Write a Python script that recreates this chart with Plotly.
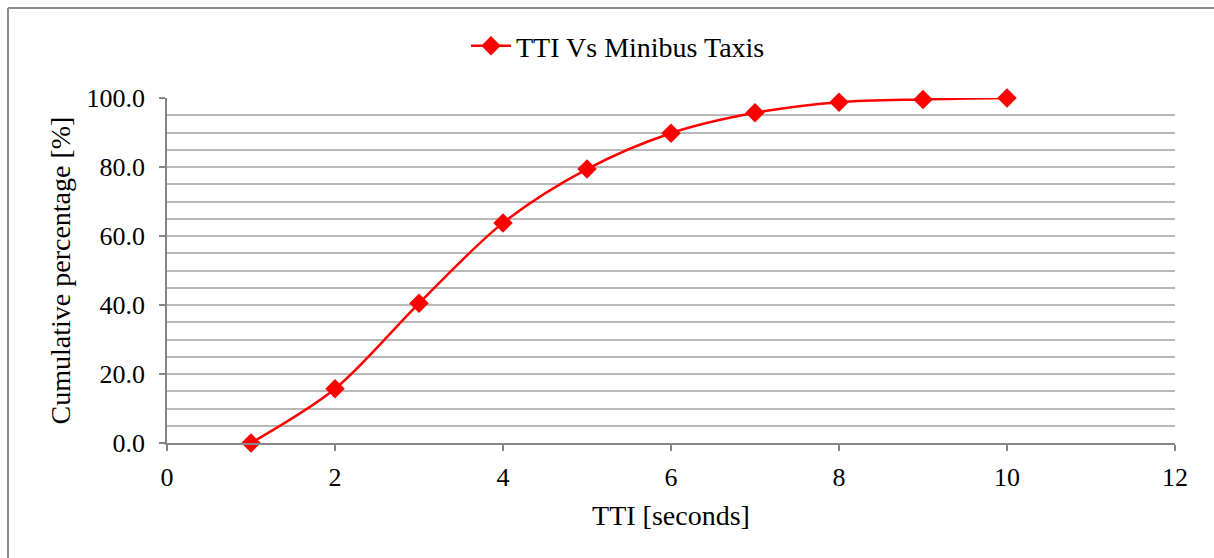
import plotly.graph_objects as go

# Cumulative distribution of TTI for minibus taxis
tti_seconds = [1, 2, 3, 4, 5, 6, 7, 8, 9, 10]
cumulative_pct = [0.0, 15.7, 40.5, 63.8, 79.4, 89.8, 95.7, 98.8, 99.6, 100.0]

x_ticks = [0, 2, 4, 6, 8, 10, 12]
y_ticks = [0, 20, 40, 60, 80, 100]

W, H = 1214, 558
M_L, M_R, M_T, M_B = 167, 39, 98, 115
plot_w = W - M_L - M_R
plot_h = H - M_T - M_B


def px_to_paper_x(px):
    return (px - M_L) / plot_w


def px_to_paper_y(py):
    return (H - M_B - py) / plot_h


font_family = "Liberation Serif"
axis_grey = "#868686"
grid_grey = "#b8b8b8"
frame_grey = "#8c8c8c"

fig = go.Figure()
fig.add_trace(go.Scatter(
    x=tti_seconds,
    y=cumulative_pct,
    mode="lines+markers",
    name="TTI Vs Minibus Taxis",
    line=dict(color="#ff0000", width=2.5, shape="spline", smoothing=0.9),
    marker=dict(symbol="diamond", size=15, color="#ff0000"),
    cliponaxis=False,
))

fig.update_layout(
    width=W,
    height=H,
    margin=dict(l=M_L, r=M_R, t=M_T, b=M_B, pad=0),
    paper_bgcolor="white",
    plot_bgcolor="white",
    font=dict(family=font_family, size=26, color="black"),
    showlegend=True,
    legend=dict(
        orientation="h",
        x=px_to_paper_x(466),
        xanchor="left",
        y=px_to_paper_y(46),
        yanchor="middle",
        font=dict(family=font_family, size=28),
        itemwidth=40,
        bgcolor="rgba(0,0,0,0)",
    ),
    xaxis=dict(
        range=[0, 12],
        tickvals=x_ticks,
        ticktext=[str(v) for v in x_ticks],
        ticks="outside",
        ticklen=6,
        tickcolor=axis_grey,
        tickwidth=1.5,
        ticklabelstandoff=4,
        showline=True,
        linecolor=axis_grey,
        linewidth=1.5,
        showgrid=False,
        zeroline=False,
        title=dict(text="TTI [seconds]", font=dict(family=font_family, size=28), standoff=14),
        tickfont=dict(family=font_family, size=26),
    ),
    yaxis=dict(
        range=[0, 100],
        tickvals=y_ticks,
        ticktext=[f"{v:.1f}" for v in y_ticks],
        ticks="outside",
        ticklen=6,
        tickcolor=axis_grey,
        tickwidth=1.5,
        ticklabelstandoff=9,
        showline=True,
        linecolor=axis_grey,
        linewidth=1.5,
        showgrid=True,
        gridcolor=grid_grey,
        gridwidth=1.5,
        minor=dict(dtick=5, showgrid=True, gridcolor=grid_grey, gridwidth=1.5),
        zeroline=False,
        title=dict(text="Cumulative percentage [%]", font=dict(family=font_family, size=28), standoff=8),
        tickfont=dict(family=font_family, size=26),
    ),
    shapes=[
        # chart outer frame: left and top edges
        dict(
            type="line", xref="paper", yref="paper",
            x0=px_to_paper_x(8), x1=px_to_paper_x(8),
            y0=px_to_paper_y(560), y1=px_to_paper_y(8),
            line=dict(color=frame_grey, width=2),
        ),
        dict(
            type="line", xref="paper", yref="paper",
            x0=px_to_paper_x(8), x1=px_to_paper_x(1216),
            y0=px_to_paper_y(8), y1=px_to_paper_y(8),
            line=dict(color=frame_grey, width=2),
        ),
        # small tick at the right end of the x axis
        dict(
            type="line",
            xref="x", yref="paper",
            x0=12, x1=12, y0=0, y1=px_to_paper_y(449),
            line=dict(color=axis_grey, width=1.5),
        ),
    ],
)

fig.write_html("out.html")
